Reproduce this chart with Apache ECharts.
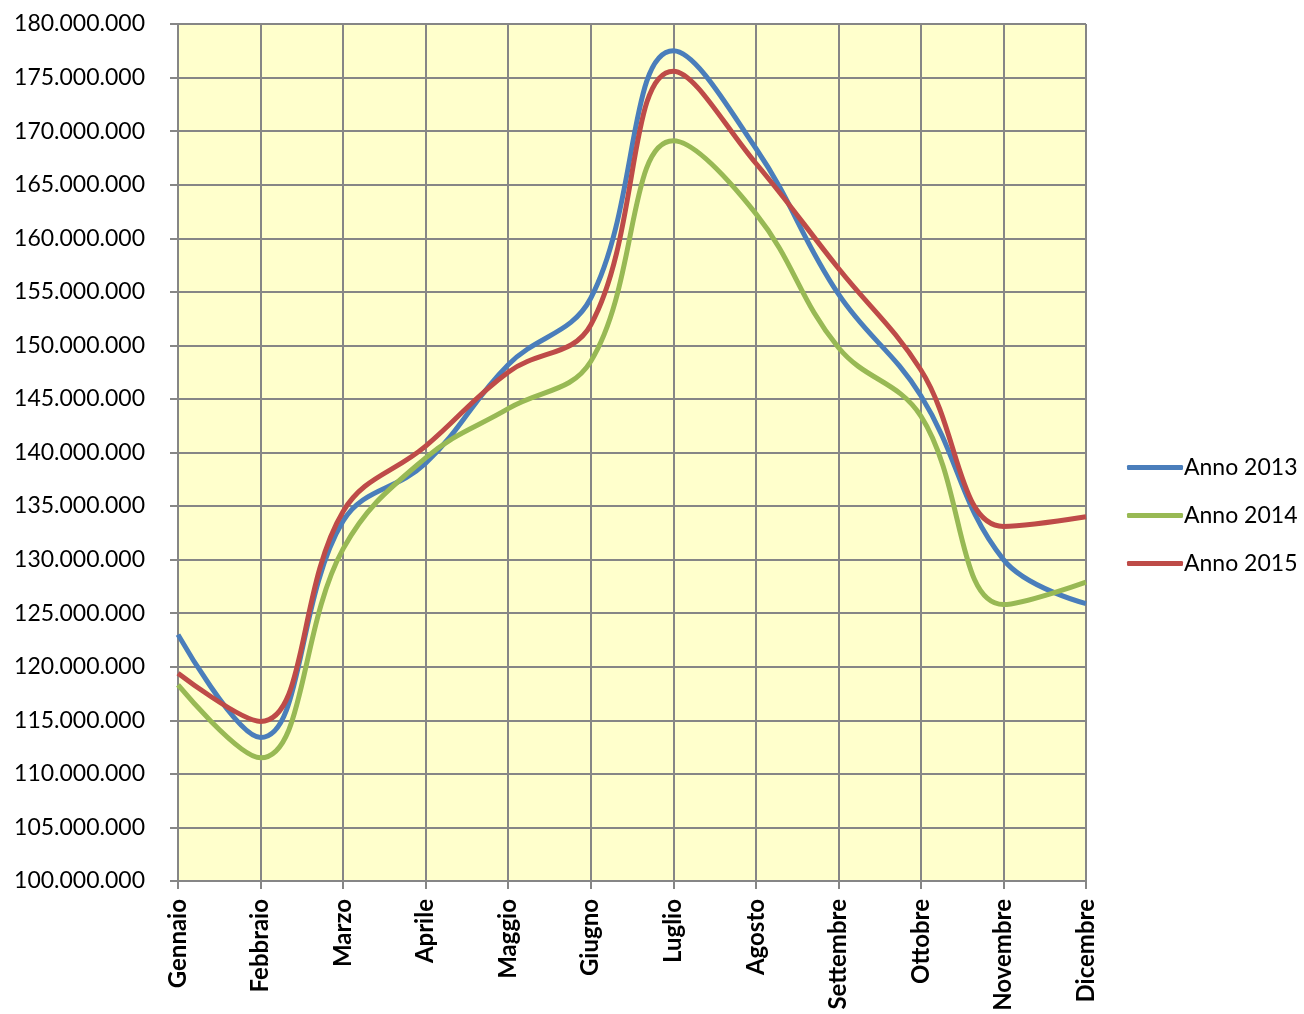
<!DOCTYPE html>
<html>
<head>
<meta charset="utf-8">
<script src="https://cdn.jsdelivr.net/npm/echarts@6/dist/echarts.min.js"></script>
<style>html,body{margin:0;padding:0;background:#fff;}#c{width:1304px;height:1014px;}</style>
</head>
<body>
<div id="c"></div>
<script>
const categories = ['Gennaio','Febbraio','Marzo','Aprile','Maggio','Giugno','Luglio','Agosto','Settembre','Ottobre','Novembre','Dicembre'];
const anno2013 = [123000000,113400000,133600000,139000000,148200000,154400000,177500000,168400000,154800000,145300000,130000000,125900000];
const anno2014 = [118300000,111500000,131000000,139500000,144100000,148500000,169100000,162300000,149800000,143400000,125800000,127900000];
const anno2015 = [119400000,114900000,134500000,140600000,147500000,151900000,175600000,167000000,157200000,147700000,133100000,134000000];
const seriesNames = ['Anno 2013','Anno 2014','Anno 2015'];
const colors = ['#4A7EBB','#98B954','#BE4B48'];

function fmt(v){ return String(Math.round(v)).replace(/\B(?=(\d{3})+(?!\d))/g,'.'); }

const chart = echarts.init(document.getElementById('c'), null, {renderer:'canvas'});
const dataSets = [anno2013, anno2014, anno2015];
chart.setOption({
  animation:false,
  backgroundColor:'#ffffff',
  grid:{left:178,right:218,top:24,bottom:133,show:true,backgroundColor:'#FFFFCC',borderWidth:0},
  legend:{
    orient:'vertical', left:1122, top:451,
    itemWidth:56, itemHeight:5, itemGap:25, icon:'roundRect',
    textStyle:{fontFamily:'Lato', fontSize:23, color:'#000', padding:[0,0,0,-4]},
    data:seriesNames
  },
  xAxis:{
    type:'category', data:categories, boundaryGap:false,
    axisLine:{lineStyle:{color:'#868686',width:2}},
    axisTick:{show:true,length:8,lineStyle:{color:'#868686',width:2}},
    splitLine:{show:true,lineStyle:{color:'#868686',width:2}},
    axisLabel:{rotate:90, interval:0, margin:18, fontFamily:'Lato', fontWeight:'bold', fontSize:24, color:'#000'}
  },
  yAxis:{
    type:'value', min:100000000, max:180000000, interval:5000000,
    axisLine:{show:true,lineStyle:{color:'#868686',width:2}},
    axisTick:{show:true,length:8,lineStyle:{color:'#868686',width:2}},
    splitLine:{show:true,lineStyle:{color:'#868686',width:2}},
    axisLabel:{margin:33, fontFamily:'Lato', fontSize:23, color:'#000', formatter:fmt}
  },
  series: dataSets.map((d,i)=>({
    name:seriesNames[i], type:'line', data:d, smooth:0.4, symbol:'none',
    lineStyle:{color:colors[i], width:5}, itemStyle:{color:colors[i]}
  }))
});
</script>
</body>
</html>
